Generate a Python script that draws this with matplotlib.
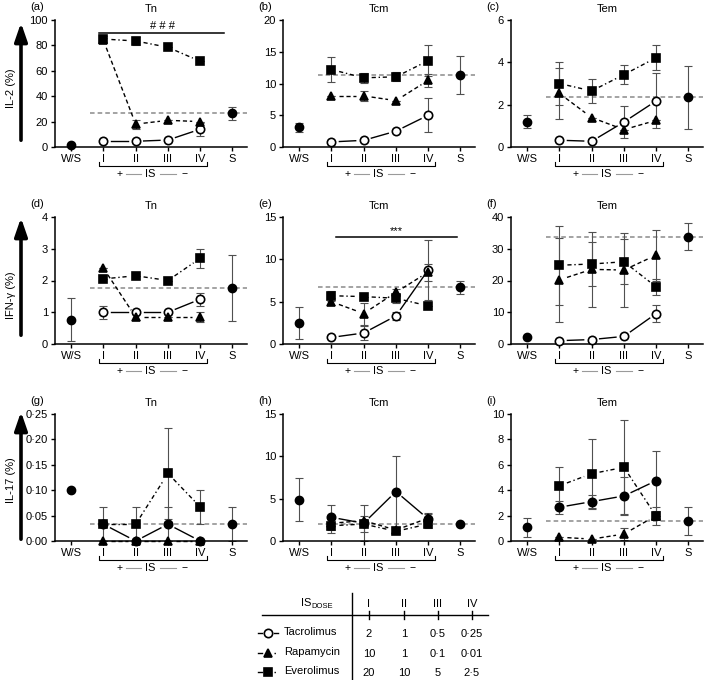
import matplotlib
matplotlib.use("Agg")
import matplotlib.pyplot as plt
from matplotlib.lines import Line2D
import matplotlib.transforms as mtransforms
import numpy as np

plt.rcParams['font.family'] = ['Liberation Sans', 'DejaVu Sans']
plt.rcParams['font.size'] = 8

CATEGORIES = ["W/S", "I", "II", "III", "IV", "S"]
DRUGS = ["Tacrolimus", "Rapamycin", "Everolimus"]
DOSE_LEVELS = ["I", "II", "III", "IV"]
DOSE_TAC = ["2", "1", "0·5", "0·25"]
DOSE_RAP = ["10", "1", "0·1", "0·01"]
DOSE_EVE = ["20", "10", "5", "2·5"]

# (a) IL-2, Tn
A_WS = [1.2, 0.0]
A_S = [26.5, 5.0]
A_TAC = [4.5, 4.5, 5.5, 14.0]
A_TAC_ERR = [0, 0, 0, 5.0]
A_RAP = [84.0, 18.0, 21.0, 20.0]
A_RAP_ERR = [2.0, 3.5, 0, 0]
A_EVE = [85.0, 83.5, 78.5, 67.5]
A_EVE_ERR = [2.5, 3.0, 0, 0]

# (b) IL-2, Tcm
B_WS = [3.1, 0.7]
B_S = [11.3, 3.0]
B_TAC = [0.8, 1.05, 2.5, 5.0]
B_TAC_ERR = [0, 0, 0, 2.7]
B_RAP = [8.05, 8.05, 7.3, 10.5]
B_RAP_ERR = [0, 0.8, 0, 1.0]
B_EVE = [12.2, 10.9, 11.05, 13.6]
B_EVE_ERR = [2.0, 0.8, 0.7, 2.4]

# (c) IL-2, Tem
C_WS = [1.2, 0.3]
C_S = [2.34, 1.5]
C_TAC = [0.32, 0.27, 1.18, 2.18]
C_TAC_ERR = [0, 0, 0.75, 1.3]
C_RAP = [2.53, 1.39, 0.82, 1.26]
C_RAP_ERR = [1.2, 0, 0, 0]
C_EVE = [3.0, 2.65, 3.42, 4.22]
C_EVE_ERR = [1.0, 0.55, 0.45, 0.6]

# (d) IFN-gamma, Tn
D_WS = [0.77, 0.67]
D_S = [1.76, 1.03]
D_TAC = [1.0, 1.0, 1.0, 1.41]
D_TAC_ERR = [0.2, 0, 0, 0.2]
D_RAP = [2.39, 0.85, 0.85, 0.85]
D_RAP_ERR = [0, 0.1, 0, 0.15]
D_EVE = [2.05, 2.15, 2.0, 2.7]
D_EVE_ERR = [0, 0, 0, 0.3]

# (e) IFN-gamma, Tcm
E_WS = [2.5, 1.9]
E_S = [6.7, 0.75]
E_TAC = [0.78, 1.3, 3.32, 8.75]
E_TAC_ERR = [0, 0.8, 0.5, 3.5]
E_RAP = [5.0, 3.6, 6.1, 8.5]
E_RAP_ERR = [0.4, 1.3, 0.4, 1.0]
E_EVE = [5.7, 5.6, 5.4, 4.5]
E_EVE_ERR = [0.6, 0, 0.5, 0]

# (f) IFN-gamma, Tem
F_WS = [2.1, 0.0]
F_S = [33.8, 4.2]
F_TAC = [1.05, 1.4, 2.4, 9.6]
F_TAC_ERR = [0, 0, 0, 2.8]
F_RAP = [20.2, 23.5, 23.3, 28.0]
F_RAP_ERR = [13.2, 11.8, 11.6, 8.0]
F_EVE = [24.8, 25.2, 25.9, 18.0]
F_EVE_ERR = [12.5, 7.0, 7.1, 2.5]

# (g) IL-17, Tn
G_WS = [0.1, 0.0]
G_S = [0.033, 0.033]
G_TAC = [0.033, 0.0, 0.033, 0.0]
G_TAC_ERR = [0, 0, 0.033, 0]
G_RAP = [0.0, 0.0, 0.0, 0.0]
G_RAP_ERR = [0, 0, 0, 0]
G_EVE = [0.033, 0.033, 0.133, 0.067]
G_EVE_ERR = [0.033, 0.033, 0.089, 0.033]

# (h) IL-17, Tcm
H_WS = [4.86, 2.55]
H_S = [2.05, 0.0]
H_TAC = [2.8, 2.1, 5.84, 2.6]
H_TAC_ERR = [1.5, 2.1, 4.15, 0.7]
H_RAP = [2.1, 2.4, 1.3, 2.7]
H_RAP_ERR = [0, 0, 0, 0.5]
H_EVE = [1.8, 2.0, 1.15, 2.0]
H_EVE_ERR = [0.8, 0.9, 0, 0.5]

# (i) IL-17, Tem
I_WS = [1.1, 0.75]
I_S = [1.6, 1.1]
I_TAC = [2.66, 3.1, 3.55, 4.75]
I_TAC_ERR = [0.5, 0.55, 1.5, 2.35]
I_RAP = [0.3, 0.15, 0.55, 2.0]
I_RAP_ERR = [0, 0, 0.45, 0]
I_EVE = [4.35, 5.3, 5.8, 1.95]
I_EVE_ERR = [1.5, 2.7, 3.7, 0.7]

ROW_LABELS = ["IL-2 (%)", "IFN-γ (%)", "IL-17 (%)"]
COL_TITLES = ["Tn", "Tcm", "Tem"]

W, H = 709, 680
fig = plt.figure(figsize=(W / 100, H / 100), dpi=100)


def fx(px):
    return px / W


def fy(py):
    return 1 - py / H


COL_LEFT = [55, 283, 511]
COL_WIDTH = 192
ROW_TB = [(20, 147), (217, 344), (414, 541)]

panels = [
    dict(tag="(a)", ws=A_WS, s=A_S, tac=(A_TAC, A_TAC_ERR), rap=(A_RAP, A_RAP_ERR), eve=(A_EVE, A_EVE_ERR),
         ylim=100, yticks=[0, 20, 40, 60, 80, 100], fmt="{:.0f}", sig=("# # #", 89.5, 0.85, 4.73, 2.83, 95)),
    dict(tag="(b)", ws=B_WS, s=B_S, tac=(B_TAC, B_TAC_ERR), rap=(B_RAP, B_RAP_ERR), eve=(B_EVE, B_EVE_ERR),
         ylim=20, yticks=[0, 5, 10, 15, 20], fmt="{:.0f}"),
    dict(tag="(c)", ws=C_WS, s=C_S, tac=(C_TAC, C_TAC_ERR), rap=(C_RAP, C_RAP_ERR), eve=(C_EVE, C_EVE_ERR),
         ylim=6, yticks=[0, 2, 4, 6], fmt="{:.0f}"),
    dict(tag="(d)", ws=D_WS, s=D_S, tac=(D_TAC, D_TAC_ERR), rap=(D_RAP, D_RAP_ERR), eve=(D_EVE, D_EVE_ERR),
         ylim=4, yticks=[0, 1, 2, 3, 4], fmt="{:.0f}"),
    dict(tag="(e)", ws=E_WS, s=E_S, tac=(E_TAC, E_TAC_ERR), rap=(E_RAP, E_RAP_ERR), eve=(E_EVE, E_EVE_ERR),
         ylim=15, yticks=[0, 5, 10, 15], fmt="{:.0f}", sig=("***", 12.6, 1.13, 4.88, 3.0, 13.3)),
    dict(tag="(f)", ws=F_WS, s=F_S, tac=(F_TAC, F_TAC_ERR), rap=(F_RAP, F_RAP_ERR), eve=(F_EVE, F_EVE_ERR),
         ylim=40, yticks=[0, 10, 20, 30, 40], fmt="{:.0f}"),
    dict(tag="(g)", ws=G_WS, s=G_S, tac=(G_TAC, G_TAC_ERR), rap=(G_RAP, G_RAP_ERR), eve=(G_EVE, G_EVE_ERR),
         ylim=0.25, yticks=[0, 0.05, 0.10, 0.15, 0.20, 0.25], fmt="{:.2f}", filled_tac=True),
    dict(tag="(h)", ws=H_WS, s=H_S, tac=(H_TAC, H_TAC_ERR), rap=(H_RAP, H_RAP_ERR), eve=(H_EVE, H_EVE_ERR),
         ylim=15, yticks=[0, 5, 10, 15], fmt="{:.0f}", filled_tac=True),
    dict(tag="(i)", ws=I_WS, s=I_S, tac=(I_TAC, I_TAC_ERR), rap=(I_RAP, I_RAP_ERR), eve=(I_EVE, I_EVE_ERR),
         ylim=10, yticks=[0, 2, 4, 6, 8, 10], fmt="{:.0f}", filled_tac=True),
]

ERR_KW = dict(fmt="none", ecolor="#505050", elinewidth=0.8, capsize=3, capthick=0.8, zorder=2)
TAC_LS = "-"
RAP_LS = (0, (3, 2))
EVE_LS = (0, (3, 2, 1, 2))
GAP_PX = 8.0

xpos_dose = [1, 2, 3, 4]


def gapped_line(ax, xs, ys, ls):
    """Draw connecting segments that stop short of the markers (GraphPad style)."""
    tdata = ax.transData
    inv = tdata.inverted()
    for i in range(len(xs) - 1):
        p0 = tdata.transform((xs[i], ys[i]))
        p1 = tdata.transform((xs[i + 1], ys[i + 1]))
        d = p1 - p0
        L = np.hypot(*d)
        if L <= 2 * GAP_PX + 1:
            continue
        u = d / L
        q0 = inv.transform(p0 + u * GAP_PX)
        q1 = inv.transform(p1 - u * GAP_PX)
        ax.plot([q0[0], q1[0]], [q0[1], q1[1]], color="black", lw=1.0, ls=ls, zorder=3,
                clip_on=False)


for k, p in enumerate(panels):
    r, c = divmod(k, 3)
    top, bot = ROW_TB[r]
    left = COL_LEFT[c]
    ax = fig.add_axes([fx(left), fy(bot), fx(COL_WIDTH), (bot - top) / H])
    ax.set_xlim(-0.5, 5.45)
    ax.set_ylim(0, p["ylim"])
    for sp in ("top", "right"):
        ax.spines[sp].set_visible(False)
    for sp in ("left", "bottom"):
        ax.spines[sp].set_linewidth(1.1)
    ax.set_xticks(range(len(CATEGORIES)))
    ax.set_xticklabels(CATEGORIES)
    ax.set_yticks(p["yticks"])
    ax.set_yticklabels([p["fmt"].format(v).replace(".", "·") for v in p["yticks"]])
    ax.tick_params(length=3, width=1.0, labelsize=8, pad=2)
    ax.set_title(COL_TITLES[c], fontsize=8, pad=6)

    # reference dashed line at S level
    ax.plot([0.58, 5.45], [p["s"][0]] * 2, color="#8a8a8a", lw=1.1, ls=(0, (3, 2)), zorder=1, clip_on=False)

    # W/S and S
    ax.errorbar([0], [p["ws"][0]], yerr=[p["ws"][1]], **ERR_KW)
    ax.errorbar([5], [p["s"][0]], yerr=[p["s"][1]], **ERR_KW)
    ax.plot([0, 5], [p["ws"][0], p["s"][0]], ls="none", marker="o", ms=6, color="black", zorder=4, clip_on=False)

    series = [
        (p["tac"], TAC_LS, "o", "black" if p.get("filled_tac") else "white"),
        (p["rap"], RAP_LS, "^", "black"),
        (p["eve"], EVE_LS, "s", "black"),
    ]
    for (vals, errs), ls, mk, face in series:
        ax.errorbar(xpos_dose, vals, yerr=errs, **ERR_KW)
        gapped_line(ax, xpos_dose, vals, ls)
        ax.plot(xpos_dose, vals, ls="none", marker=mk, ms=6 if mk != "^" else 6.2,
                mfc=face, mec="black", mew=1.2, zorder=4, clip_on=False)

    if "sig" in p:
        txt, ly, x0, x1, tx, ty = p["sig"]
        ax.plot([x0, x1], [ly, ly], color="black", lw=1.1, clip_on=False)
        ax.text(tx, ty, txt, ha="center", va="center", fontsize=8)

    # bracket + IS annotation below I..IV
    tr = mtransforms.blended_transform_factory(ax.transData, ax.transAxes)
    ax.plot([0.85, 0.85, 4.2, 4.2], [-0.118, -0.15, -0.15, -0.118], color="black", lw=0.8,
            transform=tr, clip_on=False)
    ax.text(1.49, -0.215, "+", transform=tr, ha="center", va="center", fontsize=7.5)
    ax.text(2.45, -0.215, "IS", transform=tr, ha="center", va="center", fontsize=8)
    ax.text(3.5, -0.215, "−", transform=tr, ha="center", va="center", fontsize=7.5)
    ax.plot([1.7, 2.15], [-0.215, -0.215], color="#9a9a9a", lw=0.8, transform=tr, clip_on=False)
    ax.plot([2.75, 3.25], [-0.215, -0.215], color="#9a9a9a", lw=0.8, transform=tr, clip_on=False)

    # panel tag
    fig.text(fx(left - 25), fy(top - 13), p["tag"], fontsize=8, ha="left", va="center")

# Row arrows and labels
ARROWS = [(20, 143), (215, 338), (409, 542)]
LABEL_Y = [88, 295, 480]
for r in range(3):
    t, b = ARROWS[r]
    fig.add_artist(matplotlib.patches.FancyArrowPatch(
        (fx(21), fy(b)), (fx(21), fy(t)), transform=fig.transFigure,
        arrowstyle="-|>,head_length=1.1,head_width=0.38", mutation_scale=10,
        lw=2.6, color="black"))
    fig.text(fx(11), fy(LABEL_Y[r]), ROW_LABELS[r], rotation=90, ha="center", va="center", fontsize=8)

# Dose table
COL_X = [369, 404, 438, 472]
ROW_Y = [633, 653, 672]
fig.add_artist(Line2D([fx(352), fx(352)], [fy(593), fy(680)], transform=fig.transFigure, color="black", lw=1.0))
fig.add_artist(Line2D([fx(262), fx(488)], [fy(615), fy(615)], transform=fig.transFigure, color="black", lw=1.0))
for cx, lab in zip(COL_X, DOSE_LEVELS):
    fig.add_artist(Line2D([fx(cx), fx(cx)], [fy(611), fy(619)], transform=fig.transFigure, color="black", lw=1.0))
    fig.text(fx(cx), fy(604), lab, ha="center", va="center", fontsize=8)
fig.text(fx(311), fy(603), "IS", ha="right", va="center", fontsize=8)
fig.text(fx(311), fy(606), "DOSE", ha="left", va="center", fontsize=5.5)

legend_styles = [(TAC_LS, "o", "white"), (RAP_LS, "^", "black"), (EVE_LS, "s", "black")]
for name, doses, (ls, mk, face), ry in zip(DRUGS, [DOSE_TAC, DOSE_RAP, DOSE_EVE], legend_styles, ROW_Y):
    fig.add_artist(Line2D([fx(258), fx(262)], [fy(ry), fy(ry)], transform=fig.transFigure,
                          color="black", lw=1.0))
    fig.add_artist(Line2D([fx(274), fx(278)], [fy(ry), fy(ry)], transform=fig.transFigure,
                          color="black", lw=1.0, ls="-" if ls == "-" else (0, (1, 2))))
    fig.add_artist(Line2D([fx(268)], [fy(ry)], transform=fig.transFigure, ls="none", marker=mk,
                          ms=6, mfc=face, mec="black", mew=1.2))
    fig.text(fx(284), fy(ry - 1), name, ha="left", va="center", fontsize=8)
    for cx, d in zip(COL_X, doses):
        fig.text(fx(cx), fy(ry + 1), d, ha="center", va="center", fontsize=8)

fig.savefig("out.png", dpi=100)
